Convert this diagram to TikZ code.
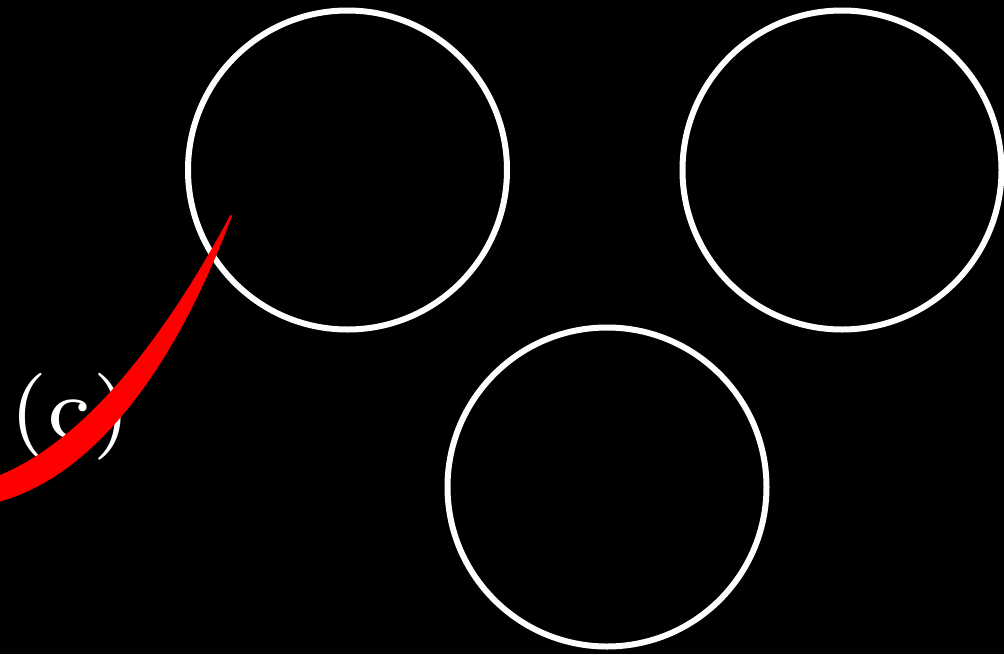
\documentclass[tikz,border=0pt]{standalone}
\usepackage{tikz}
\usetikzlibrary{calc}

\begin{document}
\begin{tikzpicture}[x=1pt, y=-1pt]
	\def\r{159.5}
    \coordinate (O1) at (347.5, 170) {};
    \coordinate (O2) at (842, 170) {};
    \coordinate (O3) at (607, 487) {};

    % background
    \fill [black] (0, 0) rectangle (1004, 654);
    \useasboundingbox (0, 0) rectangle (1004, 654);

    \draw [white, line width=6pt] (O1) circle (\r);
    \draw [white, line width=6pt] (O2) circle (\r);
    \draw [white, line width=6pt] (O3) circle (\r);

	\node [white, anchor=base, inner sep=0pt] (lbl) at (70, 438) {\scalebox{12.4}{\scriptsize (c)}};

	\fill [color=red, draw=red, line width=2pt, line join=round]
		(-2, 477) .. controls (90, 440) and (170, 330) .. (231, 216)
		-- (229, 221) .. controls (182, 345) and (105, 472) .. (-2, 501) -- cycle;

\end{tikzpicture}
\end{document}
